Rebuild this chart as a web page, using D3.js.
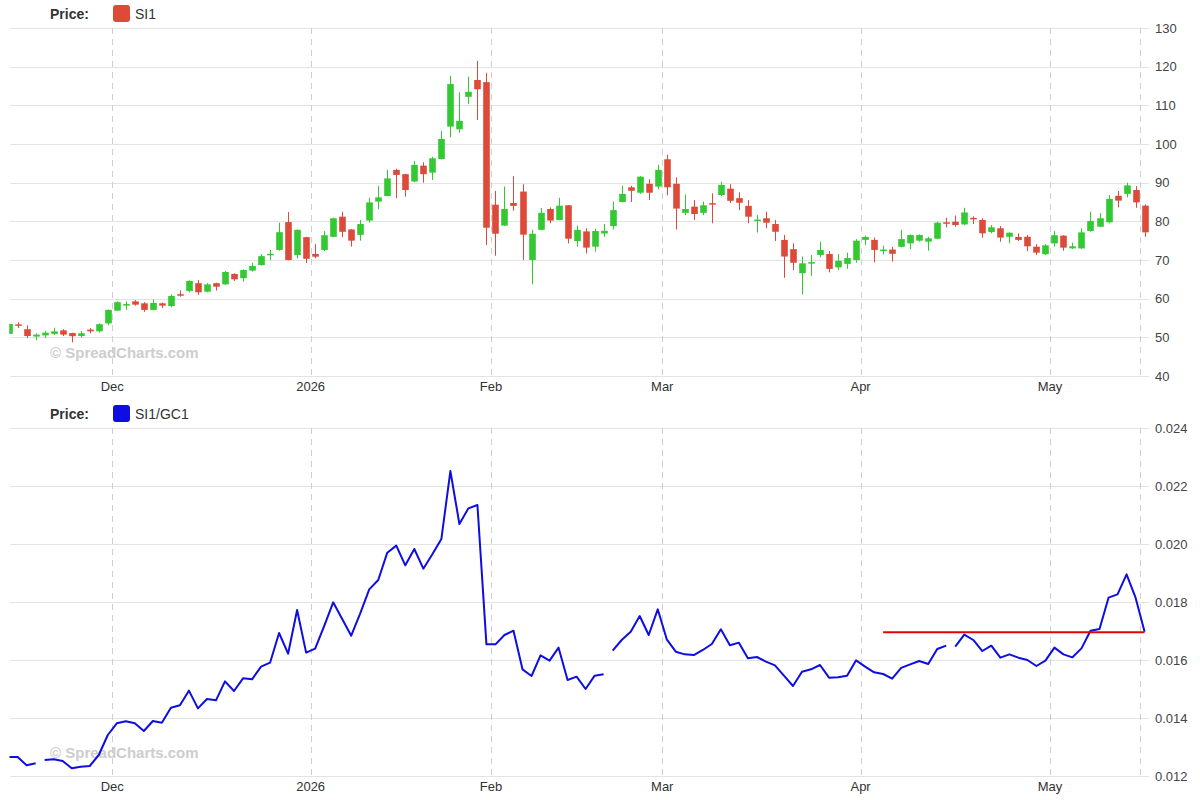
<!DOCTYPE html>
<html><head><meta charset="utf-8">
<script src="https://cdn.jsdelivr.net/npm/d3@7"></script>
<style>body{margin:0;background:#fff;} svg{display:block;font-family:"Liberation Sans",Arial,sans-serif;}</style>
</head><body><svg id="chart" width="1200" height="800"></svg>
<script>
// ---- categories: trading days ----
const dates = [
"2025-11-12","2025-11-13","2025-11-14","2025-11-17","2025-11-18","2025-11-19","2025-11-20","2025-11-21","2025-11-24","2025-11-25","2025-11-26","2025-11-28",
"2025-12-01","2025-12-02","2025-12-03","2025-12-04","2025-12-05","2025-12-08","2025-12-09","2025-12-10","2025-12-11","2025-12-12","2025-12-15","2025-12-16","2025-12-17","2025-12-18","2025-12-19","2025-12-22","2025-12-23","2025-12-24","2025-12-26","2025-12-29","2025-12-30","2025-12-31",
"2026-01-02","2026-01-05","2026-01-06","2026-01-07","2026-01-08","2026-01-09","2026-01-12","2026-01-13","2026-01-14","2026-01-15","2026-01-16","2026-01-20","2026-01-21","2026-01-22","2026-01-23","2026-01-26","2026-01-27","2026-01-28","2026-01-29","2026-01-30",
"2026-02-02","2026-02-03","2026-02-04","2026-02-05","2026-02-06","2026-02-09","2026-02-10","2026-02-11","2026-02-12","2026-02-13","2026-02-17","2026-02-18","2026-02-19","2026-02-20","2026-02-23","2026-02-24","2026-02-25","2026-02-26","2026-02-27",
"2026-03-02","2026-03-03","2026-03-04","2026-03-05","2026-03-06","2026-03-09","2026-03-10","2026-03-11","2026-03-12","2026-03-13","2026-03-16","2026-03-17","2026-03-18","2026-03-19","2026-03-20","2026-03-23","2026-03-24","2026-03-25","2026-03-26","2026-03-27","2026-03-30","2026-03-31",
"2026-04-01","2026-04-02","2026-04-06","2026-04-07","2026-04-08","2026-04-09","2026-04-10","2026-04-13","2026-04-14","2026-04-15","2026-04-16","2026-04-17","2026-04-20","2026-04-21","2026-04-22","2026-04-23","2026-04-24","2026-04-27","2026-04-28","2026-04-29","2026-04-30",
"2026-05-01","2026-05-04","2026-05-05","2026-05-06","2026-05-07","2026-05-08","2026-05-11","2026-05-12","2026-05-13","2026-05-14","2026-05-15"];

// ---- SI1 OHLC ----
const siOpen = [50.9,53.35,52.1,50.2,50.5,50.9,51.8,51.1,50.35,52.0,51.55,53.6,
56.9,58.45,59.3,58.8,57.1,58.8,58.1,61.15,62.0,64.0,61.8,64.0,63.7,66.4,65.3,67.25,68.7,71.4,72.6,79.8,71.3,75.9,
71.55,72.6,76.0,81.2,77.9,76.5,80.2,85.1,86.55,93.3,92.2,90.3,94.4,92.6,96.1,104.5,103.8,112.2,116.55,116.0,
84.3,78.9,84.75,87.7,70.0,77.8,83.2,80.35,84.15,74.9,77.4,73.45,76.85,78.8,85.0,88.8,87.4,89.7,89.0,
96.05,89.7,82.2,83.8,82.2,84.7,86.8,88.45,86.0,84.0,80.25,80.8,79.3,75.2,72.8,66.6,69.25,71.3,71.55,68.1,69.0,70.0,
75.2,75.2,72.5,72.7,73.4,74.3,75.0,74.75,75.5,79.75,79.9,79.2,80.9,80.35,77.25,78.2,76.0,75.95,76.0,73.45,71.5,
74.3,76.3,73.0,73.0,77.5,78.6,79.75,86.6,87.1,88.1,84.05];
const siHigh = [53.5,53.9,53.1,51.05,51.7,52.5,52.1,51.2,51.65,52.4,53.6,57.2,
59.3,59.3,59.65,59.1,59.8,59.0,61.1,62.1,64.7,64.8,64.0,64.1,67.15,66.55,67.6,69.3,71.55,72.6,79.65,82.4,77.9,76.0,
74.1,77.5,80.95,82.5,78.0,80.35,86.1,89.1,93.3,93.6,92.3,95.6,95.3,96.7,103.4,117.6,113.4,117.4,121.5,118.4,
87.85,89.0,91.7,89.6,77.8,83.45,83.6,86.1,84.2,78.9,78.2,78.1,79.3,85.1,89.2,89.2,91.7,90.9,94.6,
97.2,91.4,87.0,85.5,85.1,87.25,90.2,89.6,87.5,85.5,81.6,82.5,80.35,76.5,74.3,70.9,71.3,74.75,72.3,71.5,71.9,75.4,
76.3,75.8,73.7,73.4,77.8,76.6,76.6,76.0,79.9,80.9,81.5,83.5,81.3,80.8,79.05,78.8,77.2,76.9,76.5,74.1,74.1,
77.5,76.4,74.5,78.2,82.5,82.1,86.8,87.85,90.0,89.1,84.4];
const siLow = [50.8,52.4,49.8,49.3,49.8,50.6,50.35,48.7,49.9,51.05,51.3,53.1,
56.9,57.1,58.2,56.6,57.0,57.6,57.8,60.5,61.65,61.0,61.65,62.1,63.55,64.6,64.4,67.0,68.55,70.0,72.4,69.9,70.4,69.2,
70.45,72.3,75.9,75.9,73.45,75.0,79.65,83.1,86.5,86.0,86.4,90.1,90.0,90.7,96.0,101.7,102.9,110.3,106.2,73.9,
71.1,78.8,82.75,70.0,63.7,77.7,79.5,80.3,74.3,73.45,71.7,72.15,76.0,77.9,84.9,85.0,87.1,85.5,88.3,
86.7,77.9,81.6,80.35,81.6,79.5,86.55,84.7,82.9,79.5,77.1,78.2,74.9,65.4,67.4,61.1,65.9,70.7,66.8,67.4,67.7,69.3,
73.9,69.4,71.4,69.6,73.3,72.8,74.75,72.4,75.4,78.4,78.6,79.0,79.3,75.8,76.9,74.7,74.3,74.9,72.3,71.3,71.3,
73.45,72.4,72.85,72.9,77.3,78.5,79.5,83.6,86.2,83.5,76.0];
const siClose = [53.45,53.25,50.35,50.7,51.2,51.55,50.7,50.3,51.05,51.55,53.4,57.1,
59.1,58.6,58.45,57.1,58.9,58.2,60.7,61.0,64.6,61.65,63.7,63.1,66.9,65.0,67.4,68.45,71.0,71.6,77.2,70.0,77.8,70.3,
70.85,76.4,80.8,77.3,75.0,79.3,84.9,86.2,91.1,92.0,88.1,94.6,92.2,96.3,101.3,115.5,106.0,113.5,114.15,78.35,
76.8,83.2,84.0,76.55,76.8,82.2,80.2,84.05,75.5,77.8,73.2,77.5,77.55,82.9,87.1,87.9,91.55,87.4,93.3,
88.8,83.3,83.2,81.9,84.15,84.5,89.4,85.3,84.8,81.2,80.45,79.65,77.3,70.9,69.3,69.15,69.45,72.6,67.7,69.8,70.5,75.0,
75.95,72.6,72.7,71.6,75.4,76.45,76.45,75.6,79.65,79.55,79.05,82.3,80.7,76.9,78.45,75.8,77.05,75.2,73.55,71.9,73.8,
76.4,73.2,73.55,77.15,80.1,80.8,85.8,85.35,89.3,84.9,77.15];

// ---- SI1/GC1 ratio ----
const ratio = [0.012655,0.012655,0.012368,0.012437,0.012552,0.012575,0.012517,0.012264,0.012322,0.012345,0.012724,0.013414,
0.013816,0.013885,0.013816,0.013552,0.013897,0.013839,0.014356,0.014437,0.014943,0.014333,0.014655,0.014609,0.015264,0.014931,0.015368,0.015333,0.01577,0.015908,0.016931,0.016218,0.017724,0.016253,
0.016391,0.01717,0.017989,0.017414,0.016839,0.017609,0.018437,0.018759,0.019701,0.019943,0.019264,0.019828,0.019149,0.019644,0.020172,0.022517,0.02069,0.02123,0.021345,0.01654,
0.01654,0.016862,0.017011,0.015678,0.015448,0.016161,0.015977,0.016425,0.01531,0.015425,0.015,0.01546,0.015506,0.016322,0.01669,0.016977,0.017517,0.016862,0.017747,
0.016713,0.016287,0.016195,0.016172,0.016345,0.016552,0.017057,0.016506,0.016598,0.016057,0.016103,0.015943,0.015816,0.01546,0.015103,0.015598,0.015678,0.015828,0.015391,0.015402,0.01546,0.015989,
0.01577,0.015575,0.015517,0.015356,0.01573,0.015851,0.015966,0.015862,0.016379,0.016494,0.01646,0.016874,0.01669,0.01631,0.016494,0.01608,0.016195,0.01608,0.016,0.015793,0.015977,
0.016425,0.016195,0.016092,0.016402,0.017011,0.017069,0.018149,0.018264,0.018954,0.018149,0.016977];
// first date of each unbroken ratio segment (line breaks at contract rolls)
const segmentStarts = ["2025-11-12","2025-11-18","2026-02-20","2026-04-16"];
const levelValue = 0.01696;
const levelStart = "2026-04-06", levelEnd = "2026-05-15";

// ---- ticks ----
const monthTickDates = ["2025-12-01","2026-01-02","2026-02-02","2026-03-02","2026-04-01","2026-05-01","2026-05-15"];
const monthTickLabels = ["Dec","2026","Feb","Mar","Apr","May",""];
const priceTicks = [40,50,60,70,80,90,100,110,120,130];
const ratioTicks = [0.012,0.014,0.016,0.018,0.020,0.022,0.024];

// ---- drawing ----
const svg = d3.select("#chart");
const GREEN = "#33c933", RED = "#de4a3a", BLUE = "#0e0ee0";
const plotL = 10, plotR = 1149;
const x = d3.scaleBand().domain(dates).range([4.1, 1149.1]).paddingInner(0).paddingOuter(0);
const bw = x.bandwidth();
const cx = d => x(d) + bw / 2;

svg.append("defs").append("clipPath").attr("id","clip")
  .append("rect").attr("x", plotL - 0.5).attr("y", 0).attr("width", plotR - plotL + 1).attr("height", 800);

function panel(top, bottom, y, ticks, fmt, legendColor, legendText) {
  const g = svg.append("g");
  g.append("g").attr("transform", `translate(${plotL},0)`)
    .call(d3.axisRight(y).tickValues(ticks).tickSize(plotR - plotL).tickFormat(""))
    .call(s => s.select(".domain").remove())
    .call(s => s.selectAll("line").attr("stroke", "#e3e3e3").attr("shape-rendering","crispEdges"));
  g.append("g").attr("transform", `translate(${plotR},0)`)
    .call(d3.axisRight(y).tickValues(ticks).tickSize(0).tickPadding(6).tickFormat(fmt))
    .call(s => s.select(".domain").remove())
    .call(s => s.selectAll("text").attr("font-size", 13).attr("fill", "#444").attr("font-family", "Liberation Sans, Arial, sans-serif"));
  g.selectAll("line.mv").data(monthTickDates).join("line")
    .attr("x1", d => Math.round(x(d)) + 0.5).attr("x2", d => Math.round(x(d)) + 0.5)
    .attr("y1", top).attr("y2", bottom + 4)
    .attr("stroke", "#cfcfcf").attr("stroke-dasharray", "6,5");
  g.selectAll("text.ml").data(monthTickDates).join("text")
    .attr("x", d => x(d)).attr("y", bottom + 15)
    .attr("text-anchor", "middle").attr("font-size", 13).attr("fill", "#333")
    .text((d, i) => monthTickLabels[i]);
  g.append("text").attr("x", 50).attr("y", bottom - 18).attr("font-size", 15).attr("font-weight", "bold")
    .attr("fill", "#cdcdcd").text("© SpreadCharts.com");
  g.append("text").attr("x", 50).attr("y", top - 9).attr("font-size", 14).attr("font-weight", "bold").attr("fill", "#333").text("Price:");
  g.append("rect").attr("x", 113).attr("y", top - 23).attr("width", 17).attr("height", 17).attr("rx", 3).attr("fill", legendColor);
  g.append("text").attr("x", 135).attr("y", top - 9).attr("font-size", 14).attr("fill", "#333").text(legendText);
  return g;
}

// top panel
const yP = d3.scaleLinear().domain([40, 130]).range([376, 28]);
panel(28, 376, yP, priceTicks, d => d, RED, "SI1");
const candles = svg.append("g").attr("clip-path", "url(#clip)");
const idx = d3.range(dates.length);
const col = i => siClose[i] >= siOpen[i] ? GREEN : RED;
candles.selectAll("line.w").data(idx).join("line")
  .attr("x1", i => Math.round(cx(dates[i])) + 0.5).attr("x2", i => Math.round(cx(dates[i])) + 0.5)
  .attr("y1", i => yP(siHigh[i])).attr("y2", i => yP(siLow[i]))
  .attr("stroke", col).attr("stroke-width", 1);
candles.selectAll("rect.b").data(idx).join("rect")
  .attr("x", i => Math.round(cx(dates[i])) + 0.5 - 3.3).attr("width", 6.6)
  .attr("y", i => yP(Math.max(siOpen[i], siClose[i])))
  .attr("height", i => Math.max(1.5, Math.abs(yP(siOpen[i]) - yP(siClose[i]))))
  .attr("fill", col);

// bottom panel
const yR = d3.scaleLinear().domain([0.012, 0.024]).range([776, 428]);
panel(428, 776, yR, ratioTicks, d3.format(".3f"), BLUE, "SI1/GC1");
const lines = svg.append("g").attr("clip-path", "url(#clip)");
const starts = segmentStarts.map(d => dates.indexOf(d));
const line = d3.line().x(i => cx(dates[i])).y(i => yR(ratio[i]));
starts.forEach((s, k) => {
  const e = k + 1 < starts.length ? starts[k + 1] - 1 : dates.length - 1;
  lines.append("path").datum(d3.range(s, e + 1)).attr("d", line)
    .attr("fill", "none").attr("stroke", BLUE).attr("stroke-width", 2).attr("stroke-linejoin", "round");
});
lines.append("line")
  .attr("x1", cx(levelStart)).attr("x2", cx(levelEnd))
  .attr("y1", yR(levelValue)).attr("y2", yR(levelValue))
  .attr("stroke", "#e80000").attr("stroke-width", 2);
</script></body></html>
